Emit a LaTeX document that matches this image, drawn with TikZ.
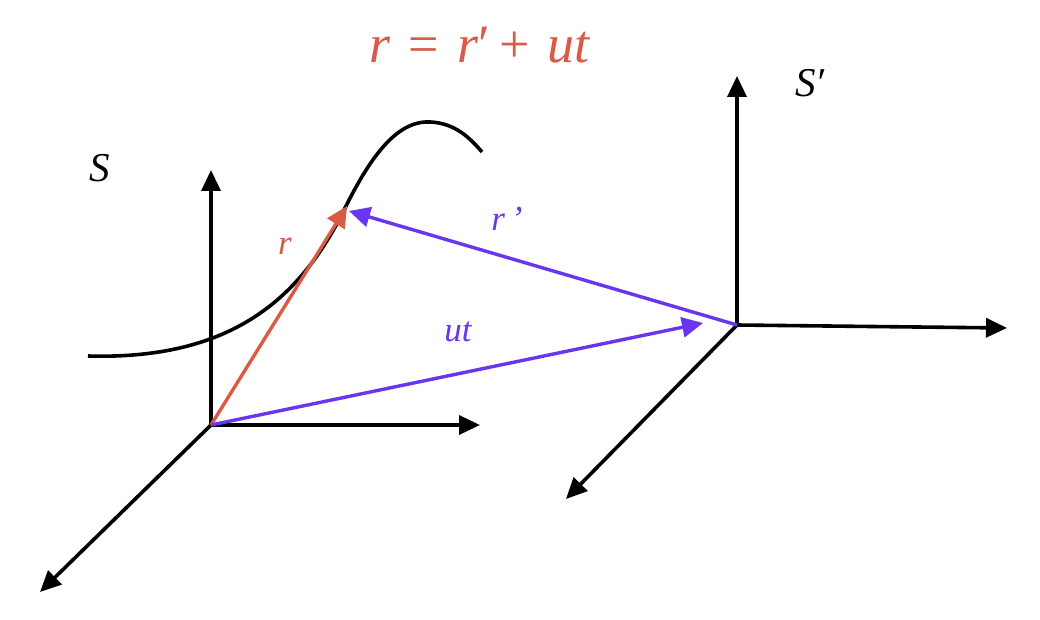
\documentclass[tikz,border=0pt]{standalone}
\usepackage{fontspec}
\setmainfont{Liberation Serif}
\usetikzlibrary{arrows.meta}
\definecolor{myred}{HTML}{D95A45}
\definecolor{mypurple}{HTML}{6A35F0}
\begin{document}
\begin{tikzpicture}[x=1pt,y=-1pt,
  axis/.style={line width=3.6pt,black,-{Triangle[length=21pt,width=19pt]}},
  vec/.style={line width=3.4pt,-{Triangle[length=21pt,width=20pt]}},
  lbl/.style={inner sep=0pt,font=\fontsize{41}{43}\selectfont\itshape}]
\useasboundingbox (0,0) rectangle (1040,620);
% origins
\coordinate (O) at (211,425);
\coordinate (Op) at (737,325);
% axes ends
\coordinate (Oy) at (211,170);
\coordinate (Ox) at (480,425);
\coordinate (Oz) at (40,592);
\coordinate (Opy) at (737,76);
\coordinate (Opx) at (1007,328);
\coordinate (Opz) at (566,499);
% vector tips
\coordinate (P) at (347,206);
\coordinate (Pp) at (349,211);
\coordinate (Q) at (703,323);
% curve
\draw[line width=3.6pt,black] (88,356) .. controls (230,360) and (300,300) .. (345,208)
  .. controls (368,162) and (395,120) .. (430,122)
  .. controls (455,123) and (470,138) .. (482,152);
% axes
\draw[axis] (O) -- (Oy);
\draw[axis] (O) -- (Ox);
\draw[axis] (O) -- (Oz);
\draw[axis] (Op) -- (Opy);
\draw[axis] (Op) -- (Opx);
\draw[axis] (Op) -- (Opz);
% vectors
\draw[vec,myred] (O) -- (P);
\draw[vec,mypurple] (Op) -- (Pp);
\draw[vec,mypurple] (O) -- (Q);
% labels
\node[lbl] (S) at (100,168) {S};
\node[lbl] (Sp) at (810,83) {S′};
\node[lbl,myred,font=\fontsize{35}{37}\selectfont\itshape] (lr) at (285,246) {r};
\node[lbl,mypurple,font=\fontsize{35}{37}\selectfont\itshape] (lrp) at (507,219) {r\,’};
\node[lbl,mypurple,font=\fontsize{35}{37}\selectfont\itshape] (lut) at (458,332) {ut};
\node[lbl,myred,font=\fontsize{54}{56}\selectfont] (title) at (480,45) {\textit{r}\,\,=\,\,\textit{r}′\,+\,\,\textit{ut}};
\end{tikzpicture}
\end{document}
